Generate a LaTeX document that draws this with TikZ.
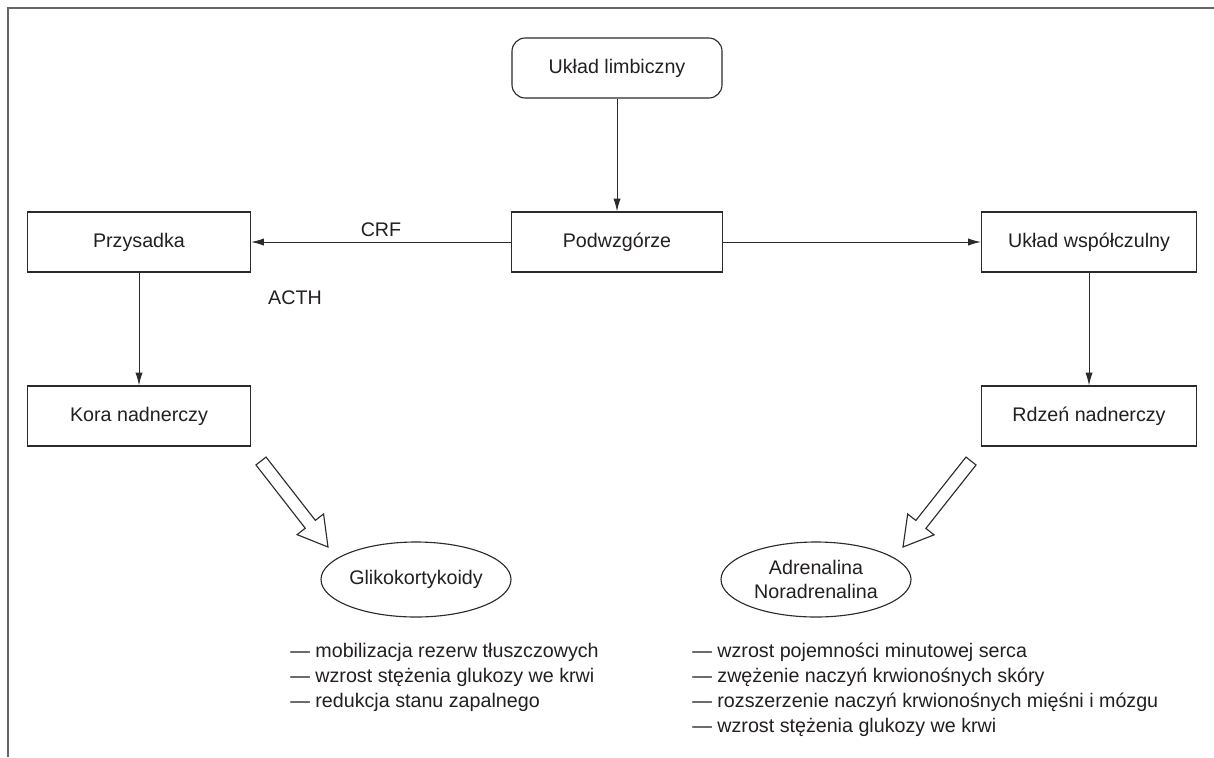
\documentclass[tikz,border=0pt]{standalone}
\usepackage{fontspec}
\setmainfont{Liberation Sans}
\usepackage{tikz}
\usetikzlibrary{shapes,arrows.meta,positioning,calc,shapes.geometric}
\usepackage{xcolor}
\definecolor{inkc}{HTML}{231F20}
\definecolor{linec}{HTML}{2B2B2B}
\definecolor{framec}{HTML}{666666}

\begin{document}
\begin{tikzpicture}[
    every node/.style={font=\fontsize{14}{17.7}\selectfont, text=inkc},
    startstop/.style={rectangle, rounded corners=0.33cm, draw=linec, line width=0.8pt, minimum width=5.25cm, minimum height=1.5cm, text centered},
    process/.style={rectangle, draw=linec, line width=0.8pt, minimum width=5.275cm, minimum height=1.5cm, text centered},
    effect/.style={ellipse, draw=linec, line width=0.8pt, minimum width=4.75cm, minimum height=1.875cm, inner sep=0pt, align=center},
    list/.style={anchor=north west, align=left, inner sep=0pt},
    arrow/.style={-{Latex[length=3.2mm,width=1.8mm]}, draw=linec, line width=0.7pt},
    hollow/.style={draw=linec, line width=0.8pt, fill=white, line join=miter},
    frame/.style={draw=framec, line width=1.3pt}
]
\useasboundingbox (0,0) rectangle (30.35,-18.925);

% border of the figure
\draw[frame] (0.2,-18.925) -- (0.2,-0.19) -- (30.35,-0.19);

\node[startstop] (limbic) at (15.425,-1.7) {Układ limbiczny};
\node[process, below of=limbic, node distance=4.35cm] (podw) {Podwzgórze};
\node[process, minimum width=5.575cm, left of=podw, node distance=11.95cm] (przys) {Przysadka};
\node[process, minimum width=5.375cm, right of=podw, node distance=11.8cm] (wspol) {Układ współczulny};
\node[process, minimum width=5.575cm, below of=przys, node distance=4.35cm] (kora) {Kora nadnerczy};
\node[process, minimum width=5.375cm, below of=wspol, node distance=4.35cm] (rdzen) {Rdzeń nadnerczy};
\node[effect, below of=kora, xshift=6.925cm, node distance=4.0875cm] (gliko) {Glikokortykoidy};
\node[effect, below of=rdzen, xshift=-6.825cm, node distance=4.0875cm] (adren) {Adrenalina\\Noradrenalina};

\node[list] (glikoList) at (7.25,-16.075) {— mobilizacja rezerw tłuszczowych\\— wzrost stężenia glukozy we krwi\\— redukcja stanu zapalnego};
\node[list] (adrenList) at (17.3,-16.075) {— wzrost pojemności minutowej serca\\— zwężenie naczyń krwionośnych skóry\\— rozszerzenie naczyń krwionośnych mięśni i mózgu\\— wzrost stężenia glukozy we krwi};

\draw[arrow] (limbic) -- (podw);
\draw[arrow] (podw) -- node[above] {CRF} (przys);
\draw[arrow] (podw) -- (wspol);
\draw[arrow] (przys) -- node[pos=0.22, right, xshift=3.1cm] {ACTH} (kora);
\draw[arrow] (wspol) -- (rdzen);

% open arrows towards the hormones
\coordinate (gTail) at (6.525,-11.525);
\coordinate (gTip) at (8.2,-13.675);
\coordinate (gNeck) at ($(gTip)!0.72cm!(gTail)$);
\draw[hollow] ($(gTail)!0.16cm!90:(gTip)$) -- ($(gNeck)!0.16cm!90:(gTip)$) -- ($(gNeck)!0.42cm!90:(gTip)$) -- (gTip)
    -- ($(gNeck)!0.42cm!-90:(gTip)$) -- ($(gNeck)!0.16cm!-90:(gTip)$) -- ($(gTail)!0.16cm!-90:(gTip)$) -- cycle;

\coordinate (aTail) at (24.275,-11.525);
\coordinate (aTip) at (22.575,-13.675);
\coordinate (aNeck) at ($(aTip)!0.72cm!(aTail)$);
\draw[hollow] ($(aTail)!0.16cm!90:(aTip)$) -- ($(aNeck)!0.16cm!90:(aTip)$) -- ($(aNeck)!0.42cm!90:(aTip)$) -- (aTip)
    -- ($(aNeck)!0.42cm!-90:(aTip)$) -- ($(aNeck)!0.16cm!-90:(aTip)$) -- ($(aTail)!0.16cm!-90:(aTip)$) -- cycle;

\end{tikzpicture}
\end{document}
